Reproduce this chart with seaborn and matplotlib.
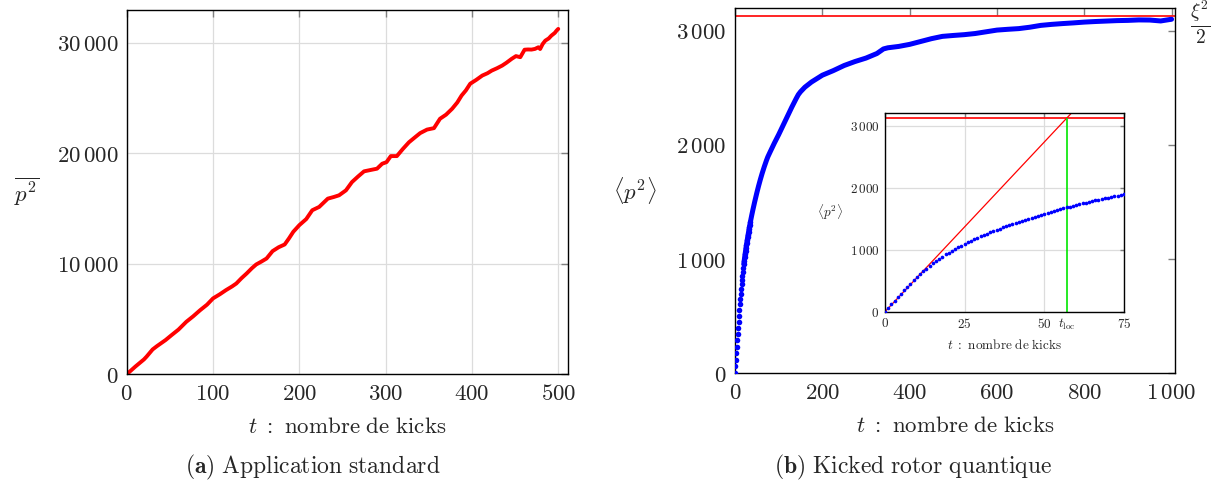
import matplotlib
matplotlib.use("Agg")
import matplotlib.pyplot as plt
import matplotlib.ticker as mticker
import seaborn as sns

# (a) standard map : mean p^2 versus number of kicks
std_t = [0, 10, 20, 23, 30, 35, 45, 52, 60, 69, 77, 85, 93, 100, 108, 115, 122, 127,
         133, 139, 145, 150, 156, 162, 169, 176, 183, 188, 193, 200, 208, 215, 223,
         233, 240, 246, 254, 261, 268, 275, 283, 290, 296, 301, 306, 313, 320, 327,
         334, 340, 348, 356, 363, 370, 377, 383, 388, 393, 398, 405, 412, 418, 423,
         429, 435, 440, 446, 451, 456, 461, 465, 469, 473, 477, 479, 482, 485, 489,
         492, 496, 498, 500]
std_p2 = [0, 700, 1350, 1600, 2250, 2550, 3100, 3550, 4050, 4750, 5250, 5800, 6300,
          6870, 7250, 7620, 7950, 8220, 8700, 9130, 9600, 9940, 10200, 10480, 11150,
          11500, 11750, 12300, 12900, 13500, 14050, 14850, 15150, 15900, 16050, 16200,
          16650, 17400, 17900, 18370, 18500, 18610, 19060, 19200, 19750, 19750, 20400,
          21000, 21450, 21830, 22150, 22280, 23130, 23500, 24030, 24600, 25230, 25700,
          26300, 26650, 27040, 27250, 27490, 27700, 27940, 28200, 28550, 28800, 28700,
          29380, 29400, 29390, 29450, 29600, 29440, 29900, 30200, 30400, 30650, 30900,
          31100, 31260]

# (b) quantum kicked rotor : <p^2>, one value per kick for the first 75 kicks
kr_t_early = list(range(0, 76))
kr_p2_early = [0, 60, 119, 177, 234, 290, 345, 399, 452, 504, 555, 604, 651, 696, 739,
               780, 819, 856, 891, 924, 955, 985, 1014, 1042, 1069, 1095, 1120, 1144,
               1168, 1192, 1215, 1237, 1259, 1280, 1301, 1321, 1341, 1360, 1379, 1397,
               1415, 1433, 1450, 1467, 1484, 1501, 1517, 1533, 1549, 1565, 1581, 1596,
               1611, 1626, 1641, 1655, 1669, 1683, 1697, 1710, 1723, 1736, 1749, 1761,
               1773, 1785, 1797, 1809, 1820, 1831, 1842, 1853, 1864, 1874, 1884, 1894]
kr_t_late = [80, 90, 100, 110, 120, 130, 140, 145, 150, 160, 175, 200, 225, 250, 275,
             300, 325, 340, 350, 375, 400, 425, 450, 475, 500, 525, 550, 575, 600, 625,
             650, 675, 700, 725, 750, 775, 800, 825, 850, 875, 900, 925, 950, 975, 1000]
kr_p2_late = [1935, 2015, 2090, 2170, 2250, 2330, 2405, 2440, 2465, 2505, 2550, 2610,
              2650, 2695, 2730, 2760, 2800, 2840, 2850, 2862, 2880, 2905, 2930, 2950,
              2958, 2965, 2975, 2990, 3005, 3012, 3018, 3030, 3046, 3055, 3062, 3068,
              3075, 3080, 3084, 3088, 3090, 3094, 3093, 3085, 3100]

xi2_half = 3125   # xi^2 / 2
t_loc = 57

sns.set_style("white")
plt.rcParams["mathtext.fontset"] = "cm"
plt.rcParams["font.family"] = ["DejaVu Serif"]


def thousands(v, pos):
    s = f"{int(round(v)):,}".replace(",", r"\,")
    return f"${s}$"


def style_axes(ax, size, length):
    ax.tick_params(direction="in", top=True, right=True, length=length, width=1,
                   color="#808080", labelsize=size, pad=6)
    for sp in ax.spines.values():
        sp.set_visible(True)
        sp.set_color("black")
        sp.set_linewidth(1.0)
    ax.xaxis.set_major_formatter(mticker.FuncFormatter(thousands))
    ax.yaxis.set_major_formatter(mticker.FuncFormatter(thousands))


fig = plt.figure(figsize=(12.22, 4.87), dpi=100)
ax1 = fig.add_axes([0.1037, 0.2314, 0.3609, 0.7487])
ax2 = fig.add_axes([0.6015, 0.2335, 0.3601, 0.7495])
axin = fig.add_axes([0.7242, 0.36, 0.1956, 0.4074])

lab = r"$t\ :\ \mathrm{nombre\ de\ kicks}$"

# ---- (a) Application standard
sns.lineplot(x=std_t, y=std_p2, ax=ax1, color="red", lw=2.8, estimator=None,
             solid_capstyle="round")
ax1.set_xlim(0, 511)
ax1.set_ylim(0, 33000)
ax1.set_xticks([0, 100, 200, 300, 400, 500])
ax1.set_yticks([0, 10000, 20000, 30000])
ax1.grid(True, color="#dcdcdc", lw=0.9)
ax1.set_axisbelow(True)
style_axes(ax1, 16.5, 5)
ax1.set_xlabel(lab, fontsize=16.5, labelpad=8)
ax1.set_ylabel(r"$\overline{p^2}$", fontsize=16.5, rotation=0, va="center", ha="center")
ax1.yaxis.set_label_coords(-0.226, 0.5)

# ---- (b) Kicked rotor quantique
early = [(t, p) for t, p in zip(kr_t_early, kr_p2_early) if t <= 35]
sns.scatterplot(x=[e[0] for e in early], y=[e[1] for e in early], ax=ax2,
                color="blue", s=16, linewidth=0, zorder=3)
line_t = [t for t in kr_t_early if t >= 20] + kr_t_late
line_p = [p for t, p in zip(kr_t_early, kr_p2_early) if t >= 20] + kr_p2_late
sns.lineplot(x=line_t, y=line_p, ax=ax2, color="blue", lw=3.6, estimator=None,
             solid_capstyle="round", zorder=3)
ax2.axhline(xi2_half, color="red", lw=1.2, zorder=2)
ax2.set_xlim(0, 1008)
ax2.set_ylim(0, 3196)
ax2.set_xticks([0, 200, 400, 600, 800, 1000])
ax2.set_yticks([0, 1000, 2000, 3000])
ax2.grid(False)
style_axes(ax2, 16.5, 5)
ax2.set_xlabel(lab, fontsize=16.5, labelpad=8)
ax2.set_ylabel(r"$\langle p^2\rangle$", fontsize=16.5, rotation=0, va="center", ha="center")
ax2.yaxis.set_label_coords(-0.227, 0.5)
ax2.text(1.057, 0.962, r"$\frac{\xi^2}{2}$", fontsize=20, ha="center", va="center",
         transform=ax2.transAxes, clip_on=False)

# ---- inset
sns.scatterplot(x=kr_t_early, y=kr_p2_early, ax=axin, color="blue", s=7, linewidth=0,
                zorder=3)
axin.axhline(xi2_half, color="red", lw=1.2, zorder=2)
axin.axline((0, 0), (t_loc, xi2_half), color="red", lw=0.9, zorder=2)
axin.vlines(t_loc, 0, xi2_half, color="#00e600", lw=1.2, zorder=2)
axin.set_xlim(0, 75)
axin.set_ylim(0, 3205)
axin.set_xticks([0, 25, 50, 75])
axin.set_yticks([0, 1000, 2000, 3000])
axin.grid(True, color="#dcdcdc", lw=0.9)
axin.set_axisbelow(True)
style_axes(axin, 9.5, 3)
axin.tick_params(pad=4)
axin.set_xticks([t_loc], minor=True)
axin.set_xticklabels([r"$t_{\mathrm{loc}}$"], minor=True)
axin.tick_params(which="minor", direction="in", length=0, labelsize=9.5, pad=4)
axin.set_xlabel(lab, fontsize=9.5, labelpad=4)
axin.set_ylabel(r"$\langle p^2\rangle$", fontsize=9.5, rotation=0, va="center", ha="center")
axin.yaxis.set_label_coords(-0.23, 0.5)

fig.text(313 / 1222, 0.041, r"$\mathbf{(a)}\ \mathrm{Application\ standard}$",
         fontsize=17, ha="center", va="center")
fig.text(913 / 1222, 0.041, r"$\mathbf{(b)}\ \mathrm{Kicked\ rotor\ quantique}$",
         fontsize=17, ha="center", va="center")

fig.savefig("out.png", dpi=100)
